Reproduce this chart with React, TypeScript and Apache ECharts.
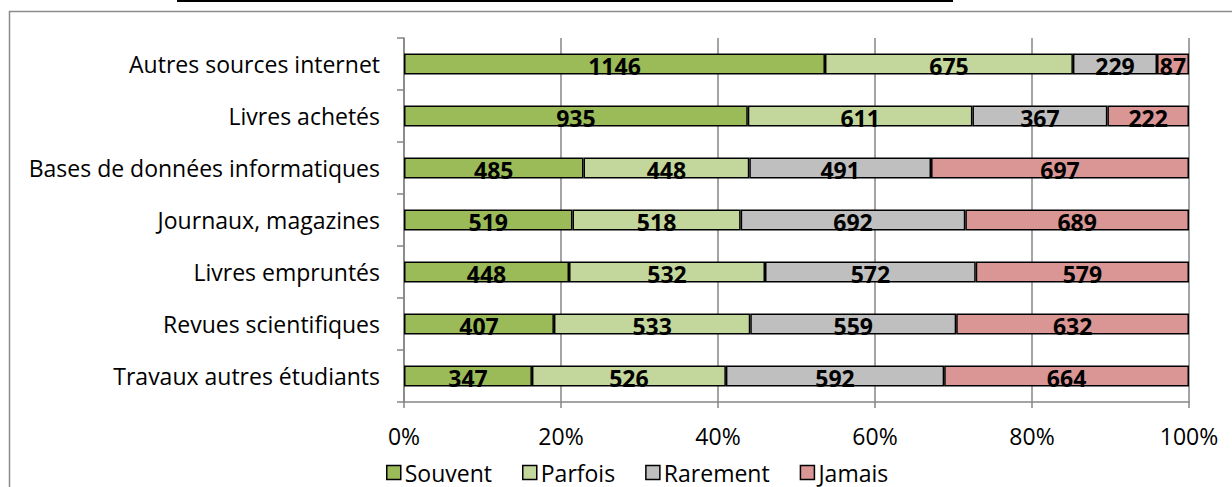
import React, { useEffect, useRef } from "react";
import * as echarts from "echarts";

const categories = [
  "Autres sources internet",
  "Livres achetés",
  "Bases de données informatiques",
  "Journaux, magazines",
  "Livres empruntés",
  "Revues scientifiques",
  "Travaux autres étudiants",
];
const seriesNames = ["Souvent", "Parfois", "Rarement", "Jamais"];
const souvent = [1146, 935, 485, 519, 448, 407, 347];
const parfois = [675, 611, 448, 518, 532, 533, 526];
const rarement = [229, 367, 491, 692, 572, 559, 592];
const jamais = [87, 222, 697, 689, 579, 632, 664];
const colors = ["#9BBB59", "#C3D69B", "#BFBFBF", "#D99694"];
const xTicks = [0, 20, 40, 60, 80, 100];

const FONT = "Open Sans";

export default function App() {
  const ref = useRef<HTMLDivElement>(null);
  useEffect(() => {
    if (!ref.current) return;
    const chart = echarts.init(ref.current, undefined, { renderer: "svg" });
    const raw = [souvent, parfois, rarement, jamais];
    const totals = categories.map((_, i) => raw.reduce((s, a) => s + a[i], 0));
    const series = raw.map((arr, k) => ({
      name: seriesNames[k],
      type: "bar",
      stack: "total",
      barWidth: 21,
      itemStyle: { color: colors[k], borderColor: "#000", borderWidth: 1.5 },
      label: {
        show: true,
        position: "inside",
        color: "#000",
        fontFamily: FONT,
        fontWeight: "bold",
        fontSize: 23,
        offset: [0, 2],
        formatter: (p: any) => String(arr[p.dataIndex]),
      },
      data: arr.map((v, i) => (v / totals[i]) * 100),
    }));
    chart.setOption({
      animation: false,
      textStyle: { fontFamily: FONT },
      grid: { left: 404, right: 43, top: 38, bottom: 85, containLabel: false },
      legend: {
        left: 381,
        top: 456,
        itemWidth: 14,
        itemHeight: 14,
        itemGap: 30,
        icon: "rect",
        itemStyle: { borderColor: "#000", borderWidth: 1.5 },
        textStyle: { fontFamily: FONT, fontSize: 23, color: "#000", padding: [0, 0, 0, -1] },
        data: seriesNames,
      },
      xAxis: {
        type: "value",
        min: 0,
        max: 100,
        interval: 20,
        axisLine: { show: true, lineStyle: { color: "#868686", width: 1.5 } },
        axisTick: { show: true, length: 6, lineStyle: { color: "#868686", width: 1.5 } },
        splitLine: { show: true, lineStyle: { color: "#868686", width: 1.5 } },
        axisLabel: {
          margin: 22,
          color: "#000",
          fontFamily: FONT,
          fontSize: 23,
          formatter: (v: number) => (xTicks.includes(v) ? v + "%" : ""),
        },
      },
      yAxis: {
        type: "category",
        inverse: true,
        data: categories,
        axisLine: { show: true, lineStyle: { color: "#868686", width: 1.5 } },
        axisTick: { show: true, length: 7, lineStyle: { color: "#868686", width: 1.5 } },
        axisLabel: { margin: 24, color: "#000", fontFamily: FONT, fontSize: 23 },
      },
      graphic: [
        {
          type: "rect",
          shape: { x: 9.5, y: 11.5, width: 1300, height: 600 },
          style: { fill: "none", stroke: "#8c8c8c", lineWidth: 1.5 },
          silent: true,
        },
        {
          type: "line",
          shape: { x1: 177, y1: 1, x2: 953, y2: 1 },
          style: { stroke: "#000", lineWidth: 2 },
          silent: true,
        },
      ],
      series,
    });
    return () => chart.dispose();
  }, []);
  return (
    <div
      ref={ref}
      style={{ position: "absolute", left: 0, top: 0, width: 1232, height: 487, background: "#fff" }}
    />
  );
}
